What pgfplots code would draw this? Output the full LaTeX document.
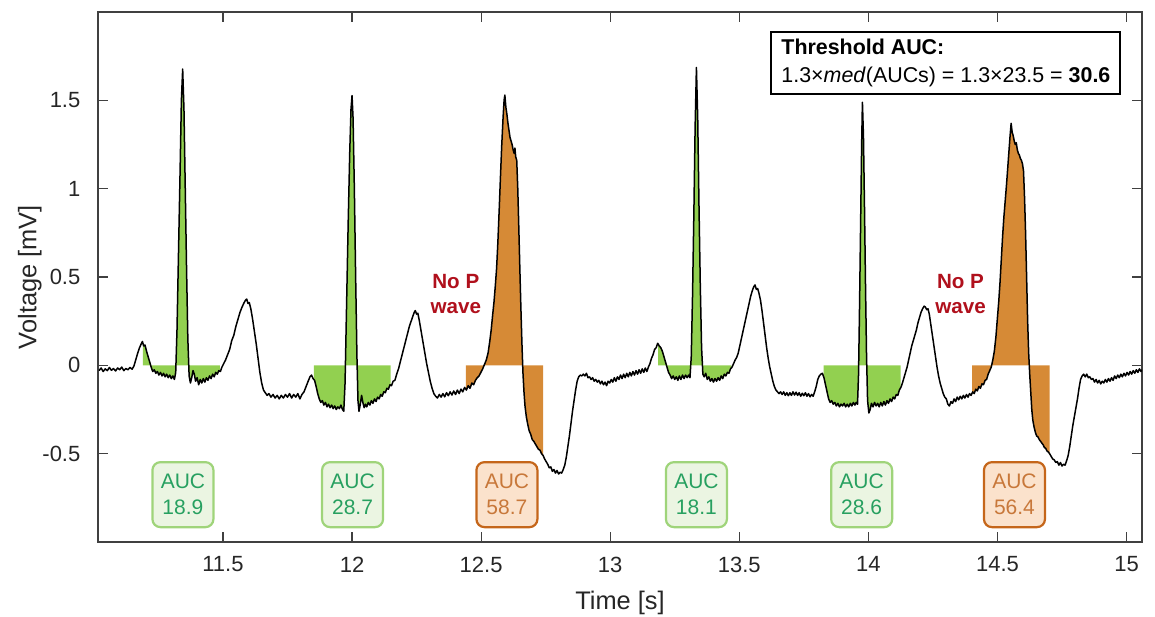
\documentclass[border=0pt]{standalone}
\usepackage{fontspec}
\setmainfont{Liberation Sans}
\usepackage{pgfplots}
\pgfplotsset{compat=1.18}
\usepgfplotslibrary{fillbetween}
\usepackage{pgfplotstable}

\definecolor{aucgreen}{HTML}{92D050}
\definecolor{aucorange}{HTML}{D68A36}
\definecolor{nopred}{HTML}{B0101C}
\definecolor{gbord}{HTML}{9FD47A}
\definecolor{gfill}{HTML}{EBF5E2}
\definecolor{gtext}{HTML}{27A060}
\definecolor{obord}{HTML}{C5661A}
\definecolor{ofill}{HTML}{FBE2CC}
\definecolor{otext}{HTML}{C8783A}
\definecolor{axgray}{HTML}{404040}

\tikzset{
  aucbox/.style={rounded corners=4pt, line width=1.1pt, minimum width=30.5pt,
    minimum height=32.5pt, inner sep=1pt, align=center,
    font=\fontsize{10.5}{13}\selectfont},
  gbox/.style={aucbox, draw=gbord, fill=gfill, text=gtext},
  obox/.style={aucbox, draw=obord, fill=ofill, text=otext},
  nop/.style={text=nopred, align=center, font=\fontsize{10.3}{12.5}\selectfont\bfseries},
}

% ECG trace, time [s] / voltage [mV]
\pgfplotstableread{
t v
11.020 -0.030
11.028 -0.015
11.036 -0.035
11.044 -0.020
11.052 -0.030
11.060 -0.012
11.068 -0.028
11.076 -0.018
11.084 -0.032
11.092 -0.015
11.100 -0.025
11.108 -0.010
11.116 -0.030
11.124 -0.018
11.132 -0.025
11.140 -0.012
11.148 -0.022
11.155 -0.005
11.162 0.030
11.170 0.070
11.177 0.100
11.183 0.120
11.188 0.135
11.193 0.110
11.198 0.115
11.204 0.080
11.210 0.050
11.216 0.020
11.222 -0.010
11.228 -0.035
11.234 -0.025
11.240 -0.045
11.246 -0.035
11.252 -0.055
11.258 -0.040
11.264 -0.060
11.270 -0.045
11.276 -0.065
11.282 -0.050
11.288 -0.070
11.294 -0.055
11.300 -0.075
11.306 -0.060
11.312 -0.080
11.317 -0.040
11.322 0.200
11.328 0.650
11.334 1.100
11.339 1.500
11.344 1.677
11.349 1.450
11.354 1.000
11.359 0.550
11.364 0.150
11.369 -0.060
11.374 -0.100
11.379 -0.070
11.384 -0.030
11.389 -0.050
11.394 -0.090
11.400 -0.070
11.406 -0.110
11.412 -0.080
11.418 -0.100
11.424 -0.075
11.430 -0.095
11.436 -0.070
11.442 -0.085
11.448 -0.060
11.454 -0.075
11.460 -0.050
11.466 -0.065
11.472 -0.040
11.478 -0.050
11.484 -0.030
11.490 -0.035
11.496 -0.010
11.503 0.010
11.510 0.030
11.518 0.060
11.526 0.090
11.534 0.140
11.542 0.170
11.550 0.220
11.558 0.260
11.566 0.300
11.574 0.330
11.582 0.355
11.588 0.370
11.592 0.375
11.597 0.350
11.602 0.355
11.608 0.320
11.615 0.260
11.622 0.190
11.629 0.120
11.636 0.040
11.643 -0.040
11.650 -0.100
11.657 -0.140
11.664 -0.155
11.671 -0.170
11.678 -0.160
11.686 -0.180
11.694 -0.165
11.702 -0.185
11.710 -0.170
11.718 -0.190
11.726 -0.170
11.734 -0.185
11.742 -0.165
11.750 -0.180
11.758 -0.160
11.766 -0.185
11.774 -0.165
11.782 -0.180
11.790 -0.160
11.798 -0.190
11.806 -0.165
11.814 -0.150
11.822 -0.120
11.830 -0.090
11.837 -0.065
11.843 -0.055
11.849 -0.075
11.855 -0.085
11.861 -0.120
11.867 -0.160
11.873 -0.190
11.879 -0.210
11.885 -0.200
11.891 -0.225
11.897 -0.210
11.903 -0.235
11.909 -0.220
11.915 -0.240
11.921 -0.225
11.927 -0.245
11.933 -0.230
11.939 -0.250
11.945 -0.235
11.951 -0.245
11.957 -0.225
11.963 -0.250
11.968 -0.260
11.973 -0.100
11.979 0.350
11.985 0.800
11.991 1.200
11.996 1.450
12.000 1.527
12.004 1.400
12.009 1.000
12.014 0.500
12.019 0.050
12.023 -0.200
12.027 -0.260
12.032 -0.220
12.037 -0.170
12.042 -0.210
12.047 -0.240
12.052 -0.220
12.057 -0.235
12.063 -0.210
12.069 -0.225
12.075 -0.200
12.081 -0.215
12.087 -0.190
12.093 -0.205
12.099 -0.180
12.105 -0.190
12.111 -0.165
12.117 -0.175
12.123 -0.150
12.129 -0.155
12.135 -0.130
12.141 -0.135
12.147 -0.110
12.153 -0.115
12.159 -0.090
12.166 -0.085
12.173 -0.050
12.180 -0.020
12.187 0.020
12.194 0.060
12.201 0.100
12.208 0.140
12.215 0.180
12.222 0.220
12.229 0.250
12.236 0.280
12.241 0.300
12.245 0.310
12.250 0.290
12.255 0.295
12.261 0.250
12.268 0.190
12.275 0.130
12.282 0.070
12.289 0.010
12.296 -0.040
12.303 -0.090
12.310 -0.130
12.317 -0.160
12.324 -0.175
12.331 -0.185
12.338 -0.165
12.345 -0.180
12.352 -0.160
12.359 -0.178
12.366 -0.155
12.373 -0.172
12.380 -0.150
12.387 -0.168
12.394 -0.145
12.401 -0.165
12.408 -0.140
12.415 -0.160
12.422 -0.135
12.429 -0.150
12.436 -0.125
12.443 -0.140
12.450 -0.115
12.457 -0.130
12.464 -0.100
12.471 -0.110
12.478 -0.085
12.485 -0.070
12.492 -0.060
12.499 -0.040
12.506 -0.020
12.513 0.005
12.520 0.030
12.527 0.070
12.533 0.130
12.539 0.200
12.545 0.290
12.550 0.360
12.555 0.450
12.560 0.550
12.565 0.700
12.570 0.880
12.575 1.070
12.580 1.250
12.585 1.400
12.589 1.500
12.592 1.530
12.596 1.460
12.600 1.420
12.604 1.370
12.608 1.330
12.612 1.290
12.616 1.270
12.620 1.250
12.624 1.220
12.628 1.200
12.631 1.230
12.634 1.180
12.638 1.160
12.642 1.000
12.646 0.780
12.650 0.550
12.654 0.330
12.658 0.130
12.662 -0.040
12.666 -0.150
12.670 -0.230
12.675 -0.290
12.680 -0.330
12.686 -0.370
12.692 -0.390
12.698 -0.420
12.704 -0.430
12.710 -0.445
12.716 -0.460
12.722 -0.475
12.728 -0.480
12.734 -0.500
12.740 -0.510
12.746 -0.530
12.752 -0.545
12.758 -0.560
12.764 -0.580
12.770 -0.575
12.776 -0.600
12.782 -0.590
12.788 -0.610
12.794 -0.595
12.800 -0.615
12.806 -0.605
12.812 -0.610
12.818 -0.590
12.824 -0.565
12.830 -0.520
12.836 -0.460
12.842 -0.400
12.848 -0.330
12.854 -0.260
12.860 -0.200
12.866 -0.140
12.872 -0.090
12.878 -0.065
12.884 -0.055
12.890 -0.060
12.896 -0.050
12.902 -0.060
12.908 -0.045
12.914 -0.070
12.920 -0.065
12.926 -0.080
12.932 -0.070
12.938 -0.090
12.944 -0.080
12.950 -0.095
12.956 -0.085
12.962 -0.105
12.968 -0.090
12.974 -0.110
12.980 -0.095
12.986 -0.115
12.992 -0.090
12.998 -0.100
13.004 -0.080
13.010 -0.095
13.016 -0.070
13.022 -0.090
13.028 -0.065
13.034 -0.080
13.040 -0.055
13.046 -0.075
13.052 -0.050
13.058 -0.070
13.064 -0.045
13.070 -0.065
13.076 -0.040
13.082 -0.060
13.088 -0.035
13.094 -0.055
13.100 -0.030
13.106 -0.050
13.112 -0.025
13.118 -0.045
13.124 -0.020
13.130 -0.040
13.136 -0.015
13.142 -0.035
13.148 -0.010
13.154 0.010
13.160 0.040
13.166 0.060
13.172 0.090
13.178 0.100
13.184 0.125
13.190 0.110
13.196 0.100
13.202 0.080
13.208 0.050
13.214 0.020
13.220 -0.010
13.226 -0.040
13.232 -0.055
13.238 -0.075
13.244 -0.060
13.250 -0.080
13.256 -0.065
13.262 -0.085
13.268 -0.060
13.274 -0.080
13.280 -0.055
13.286 -0.075
13.292 -0.055
13.298 -0.070
13.304 -0.055
13.309 -0.070
13.314 0.050
13.319 0.400
13.324 0.850
13.329 1.350
13.334 1.686
13.339 1.400
13.344 0.900
13.349 0.450
13.354 0.100
13.359 -0.050
13.364 -0.065
13.370 -0.045
13.376 -0.080
13.382 -0.065
13.388 -0.090
13.394 -0.075
13.400 -0.095
13.406 -0.075
13.412 -0.090
13.418 -0.070
13.424 -0.085
13.430 -0.060
13.436 -0.075
13.442 -0.050
13.448 -0.060
13.454 -0.040
13.460 -0.045
13.466 -0.020
13.472 -0.010
13.478 0.010
13.484 0.030
13.490 0.045
13.496 0.070
13.502 0.110
13.508 0.150
13.514 0.190
13.520 0.230
13.526 0.270
13.532 0.310
13.538 0.350
13.544 0.390
13.550 0.420
13.556 0.445
13.561 0.455
13.566 0.430
13.571 0.435
13.576 0.410
13.582 0.370
13.588 0.310
13.594 0.240
13.600 0.170
13.606 0.100
13.612 0.040
13.618 -0.010
13.624 -0.050
13.630 -0.090
13.636 -0.120
13.642 -0.140
13.648 -0.150
13.654 -0.160
13.660 -0.150
13.666 -0.165
13.672 -0.150
13.678 -0.170
13.684 -0.155
13.690 -0.172
13.696 -0.155
13.702 -0.170
13.708 -0.150
13.714 -0.168
13.720 -0.152
13.726 -0.170
13.732 -0.155
13.738 -0.175
13.744 -0.158
13.750 -0.172
13.756 -0.155
13.762 -0.175
13.768 -0.160
13.774 -0.178
13.780 -0.165
13.786 -0.175
13.792 -0.150
13.798 -0.120
13.804 -0.080
13.810 -0.060
13.816 -0.050
13.822 -0.045
13.828 -0.070
13.834 -0.110
13.840 -0.150
13.846 -0.190
13.852 -0.210
13.858 -0.200
13.864 -0.220
13.870 -0.210
13.876 -0.230
13.882 -0.215
13.888 -0.235
13.894 -0.220
13.900 -0.230
13.906 -0.215
13.912 -0.235
13.918 -0.220
13.924 -0.235
13.930 -0.215
13.936 -0.230
13.942 -0.210
13.948 -0.225
13.953 -0.210
13.958 -0.220
13.962 -0.050
13.966 0.350
13.970 0.800
13.974 1.250
13.977 1.489
13.981 1.300
13.985 0.900
13.989 0.450
13.993 0.050
13.997 -0.200
14.002 -0.270
14.007 -0.250
14.012 -0.215
14.018 -0.235
14.024 -0.210
14.030 -0.230
14.036 -0.215
14.042 -0.235
14.048 -0.210
14.054 -0.230
14.060 -0.205
14.066 -0.225
14.072 -0.200
14.078 -0.215
14.084 -0.190
14.090 -0.205
14.096 -0.180
14.102 -0.190
14.108 -0.165
14.114 -0.170
14.120 -0.140
14.126 -0.125
14.132 -0.100
14.138 -0.070
14.144 -0.040
14.150 -0.010
14.156 0.030
14.162 0.070
14.168 0.110
14.174 0.140
14.180 0.170
14.186 0.200
14.192 0.240
14.198 0.270
14.204 0.300
14.210 0.320
14.216 0.335
14.221 0.330
14.226 0.315
14.231 0.320
14.236 0.290
14.242 0.230
14.248 0.170
14.254 0.110
14.260 0.050
14.266 -0.010
14.272 -0.060
14.278 -0.100
14.284 -0.130
14.290 -0.160
14.296 -0.180
14.302 -0.190
14.308 -0.220
14.314 -0.230
14.320 -0.205
14.326 -0.215
14.332 -0.190
14.338 -0.205
14.344 -0.180
14.350 -0.195
14.356 -0.175
14.362 -0.190
14.368 -0.170
14.374 -0.185
14.380 -0.165
14.386 -0.180
14.392 -0.160
14.398 -0.170
14.404 -0.150
14.410 -0.160
14.416 -0.135
14.422 -0.145
14.428 -0.120
14.434 -0.130
14.440 -0.105
14.446 -0.110
14.452 -0.085
14.458 -0.080
14.464 -0.050
14.470 -0.030
14.476 -0.010
14.482 0.030
14.488 0.080
14.494 0.160
14.500 0.270
14.505 0.360
14.510 0.470
14.515 0.600
14.520 0.730
14.525 0.840
14.530 0.930
14.535 1.020
14.540 1.120
14.545 1.220
14.549 1.300
14.553 1.370
14.557 1.320
14.561 1.300
14.565 1.270
14.569 1.250
14.573 1.260
14.577 1.220
14.581 1.200
14.585 1.190
14.589 1.170
14.593 1.160
14.597 1.140
14.601 1.100
14.605 0.950
14.609 0.750
14.613 0.500
14.617 0.250
14.621 0.070
14.625 -0.050
14.629 -0.150
14.633 -0.250
14.637 -0.310
14.642 -0.350
14.647 -0.380
14.652 -0.400
14.657 -0.405
14.662 -0.420
14.667 -0.430
14.672 -0.440
14.677 -0.450
14.682 -0.465
14.687 -0.470
14.692 -0.485
14.697 -0.490
14.702 -0.500
14.708 -0.515
14.714 -0.530
14.720 -0.535
14.726 -0.550
14.732 -0.545
14.738 -0.565
14.744 -0.550
14.750 -0.570
14.756 -0.560
14.762 -0.565
14.768 -0.540
14.774 -0.510
14.780 -0.460
14.786 -0.400
14.792 -0.340
14.798 -0.290
14.804 -0.240
14.810 -0.190
14.816 -0.130
14.822 -0.080
14.828 -0.060
14.834 -0.050
14.840 -0.065
14.846 -0.050
14.852 -0.070
14.858 -0.065
14.864 -0.080
14.870 -0.075
14.876 -0.095
14.882 -0.080
14.888 -0.100
14.894 -0.085
14.900 -0.105
14.906 -0.090
14.912 -0.100
14.918 -0.080
14.924 -0.095
14.930 -0.075
14.936 -0.090
14.942 -0.070
14.948 -0.085
14.954 -0.060
14.960 -0.075
14.966 -0.055
14.972 -0.070
14.978 -0.050
14.984 -0.065
14.990 -0.045
14.996 -0.060
15.002 -0.040
15.008 -0.055
15.014 -0.035
15.020 -0.050
15.026 -0.030
15.032 -0.045
15.038 -0.025
15.044 -0.040
15.050 -0.020
15.056 -0.035
15.060 -0.025
}\ecg

\begin{document}
\begin{tikzpicture}
\begin{axis}[
    scale only axis,
    width=522pt, height=265pt,
    xmin=11.016, xmax=15.06,
    ymin=-1, ymax=2,
    xtick={11.5,12,12.5,13,13.5,14,14.5,15},
    ytick={-0.5,0,0.5,1,1.5},
    tick align=inside,
    major tick length=5pt,
    axis line style={axgray, line width=0.6pt},
    tick style={axgray, line width=0.6pt},
    /pgf/number format/assume math mode=true,
    ticklabel style={font=\fontsize{11}{13}\selectfont, text=black!85},
    yticklabel style={xshift=-5.3pt},
    xticklabel style={yshift=-3.8pt},
    xlabel={Time [s]},
    ylabel={Voltage [mV]},
    label style={font=\fontsize{12.7}{15}\selectfont, text=black!85, inner sep=0pt},
    xlabel style={at={(axis description cs:0.5,-0.0925)}, anchor=north},
    ylabel style={at={(axis description cs:-0.0536,0.5)}, anchor=south},
    clip=true,
]
% path only, for the areas
\addplot[draw=none, name path=sig, forget plot] table[x=t, y=v] {\ecg};
\addplot[draw=none, name path=zero, forget plot] coordinates {(11,0) (15.1,0)};

\addplot[aucgreen, draw=none] fill between[of=sig and zero, soft clip={domain=11.19:11.488}];
\addplot[aucgreen, draw=none] fill between[of=sig and zero, soft clip={domain=11.852:12.149}];
\addplot[aucgreen, draw=none] fill between[of=sig and zero, soft clip={domain=13.186:13.469}];
\addplot[aucgreen, draw=none] fill between[of=sig and zero, soft clip={domain=13.827:14.125}];
\addplot[aucorange, draw=none] fill between[of=sig and zero, soft clip={domain=12.441:12.74}];
\addplot[aucorange, draw=none] fill between[of=sig and zero, soft clip={domain=14.402:14.702}];

% the trace itself
\addplot[black, line width=0.75pt, line join=round] table[x=t, y=v] {\ecg};

\node[gbox] at (axis cs:11.345,-0.732) {AUC\\18.9};
\node[gbox] at (axis cs:12.002,-0.732) {AUC\\28.7};
\node[obox] at (axis cs:12.600,-0.732) {AUC\\58.7};
\node[gbox] at (axis cs:13.334,-0.732) {AUC\\18.1};
\node[gbox] at (axis cs:13.974,-0.732) {AUC\\28.6};
\node[obox] at (axis cs:14.566,-0.732) {AUC\\56.4};

\node[nop] at (axis cs:12.402,0.405) {No P\\wave};
\node[nop] at (axis cs:14.357,0.405) {No P\\wave};

\node[draw=black, line width=1pt, fill=white, anchor=north east, align=left,
      inner xsep=5pt, inner ysep=3.5pt, font=\fontsize{10.7}{14}\selectfont]
  at (axis cs:14.98,1.893)
  {\textbf{Threshold AUC:}\\1.3×\textit{med}(AUCs) = 1.3×23.5 = \textbf{30.6}};
\end{axis}
\path ([shift={(-49pt,-37pt)}]current axis.south west) rectangle ([shift={(6.5pt,6pt)}]current axis.north east);
\end{tikzpicture}
\end{document}
